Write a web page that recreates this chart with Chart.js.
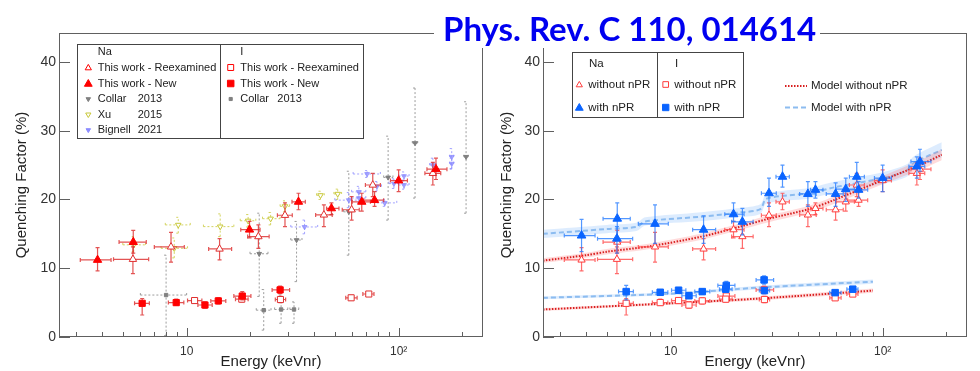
<!DOCTYPE html>
<html><head><meta charset="utf-8">
<script src="https://cdn.jsdelivr.net/npm/chart.js@4.4.0/dist/chart.umd.min.js"></script>
<style>
html,body{margin:0;padding:0;background:#fff;}
#wrap{position:relative;width:980px;height:371px;overflow:hidden;background:#fff;}
canvas{position:absolute;top:0;}
#c1{left:0;} #c2{left:490px;}
#title{position:absolute;left:434px;top:0;width:386px;height:48px;background:#fff;}
#tt{position:absolute;left:9px;top:9px;font-family:Lato,'Open Sans',sans-serif;font-weight:700;color:#0000f0;font-size:33px;line-height:39.6px;white-space:nowrap;}
</style></head><body>
<div id="wrap">
<canvas id="c1" width="490" height="371"></canvas>
<canvas id="c2" width="490" height="371"></canvas>
<div id="title"><span id="tt">Phys. Rev. C 110, 014614</span></div>
</div>
<script>
// rows: [E (keVnr), QF (%), E low, E high, QF low, QF high]
const naNew = [
 [3.8,11.2,3.15,4.4,9.6,13.0],[5.6,13.8,4.8,6.45,12.2,15.5],[19.8,15.6,18.0,22.2,14.4,16.8],
 [33.7,19.65,31.4,36.3,18.5,20.9],[48.2,18.7,45.7,52.3,17.8,19.5],[67,19.65,60.4,73.6,18.3,20.9],
 [77,19.9,68.4,85,19.0,21.15],[100,22.75,91.5,110,21.15,24.3],[150,24.4,136,169,22.9,26.0]];
const naRe = [
 [5.58,11.3,4.52,6.62,9.2,13.1],[8.44,13.1,7.04,9.75,10.9,15.2],[14.3,12.8,12.7,16.3,11.2,14.3],
 [21.8,14.6,19.4,24.5,12.9,16.3],[29.1,17.7,26.8,31.5,16.05,19.5],[44.4,17.75,40.6,48.6,16.05,19.2],
 [60,18.5,54.2,65.2,17.0,20.4],[75.5,22.1,69.7,82,20.4,23.8],[145,23.8,133,158,22.1,25.4]];
const naCollar = [
 [22,12.1,19.9,24.2,5.9,18.0],[33,14.1,31.0,35.0,8.05,16.8],[58.2,18.2,55,62,11.9,24.1],
 [89.2,23.2,85,94,17.0,29.2],[119.5,28.2,116,123,20.2,36.2],[208,26.2,203,213,18.0,34.2]];
const naXu = [
 [5.63,13.4,5.0,6.4,12.4,14.6],[8.74,12.9,7.57,10.1,11.5,14.4],[9.13,16.3,7.93,10.4,15.1,17.4],
 [14.4,16.05,12.0,16.7,14.6,17.9],[19.5,16.9,17.9,21.2,16.0,17.8],[24.9,17.2,22.8,27.6,16.3,18.1],
 [29.1,19.0,27.6,30.6,18.2,19.8],[42.8,20.6,41,44.6,20.0,21.2],[51.6,20.8,49.5,53.8,20.0,21.5]];
const naBignell = [
 [36,16.0,31,41.5,15.0,17.0],[58.2,19.9,50,66,18.8,21.0],[64.9,21.1,60,70,20.3,21.9],
 [65,20.2,60,70,19.5,21.0],[71,23.7,61,82,23.2,24.2],[79,21.9,75,83,21.2,22.6],
 [86,19.5,79,98,19.0,20.0],[95,22.3,90,100,21.6,23.0],[106,23.4,100,112,22.8,24.0],
 [106,22.1,100,112,21.5,22.7],[145,25.0,140,150,24.0,26.0],[178,26.2,174,182,24.4,27.4],
 [178,25.2,174,182,24.5,26.0]];
const iNew = [
 [6.17,4.9,5.68,6.67,3.2,5.6],[8.93,5.0,8.2,9.7,4.6,5.5],[12.2,4.65,11.3,13.2,4.2,5.1],
 [14.1,5.25,13.0,15.3,4.8,5.7],[18.3,5.95,16.7,20.1,5.4,6.6],[27.6,6.85,25.3,30.6,6.3,7.4]];
const iRe = [
 [10.9,5.3,10.1,11.8,4.9,5.7],[18.2,5.5,17.0,19.5,5.1,5.9],[27.7,5.45,26.2,29.3,5.0,5.9],
 [59.7,5.7,56.3,63.7,5.35,6.05],[72.3,6.25,67.8,76.5,5.9,6.6]];
const iCollar = [
 [8.0,6.1,6.05,10.0,0.2,11.9],[23.1,3.9,21.3,25.0,1.0,6.9],[27.9,4.0,26.0,30.0,2.0,6.1],
 [32.1,4.0,30.7,33.8,2.0,5.1]];
// right panel: with nuclear-recoil correction (nPR)
const naWithNPR = [
 [3.8,14.75,3.15,4.4,12.4,17.1],[5.6,17.2,4.8,6.45,14.1,19.5],[5.58,14.3,4.52,6.62,12.2,16.05],
 [8.44,16.45,7.04,9.75,13.6,19.2],[14.3,15.6,12.7,16.3,13.6,17.6],[19.8,17.85,18.0,22.2,16.8,19.5],
 [21.8,16.75,19.4,24.5,14.85,18.7],[29.1,20.9,26.8,31.5,19.0,23.1],[33.7,23.3,31.4,36.3,21.8,25.0],
 [44.4,20.8,40.6,48.6,19.0,22.6],[48.2,21.4,45.7,52.3,20.2,22.6],[60,20.8,54.2,65.2,19.0,22.4],
 [67,21.5,60.4,73.6,19.7,23.1],[75.5,23.3,69.7,82,21.4,25.4],[77,21.4,68.4,85,20.2,22.6],
 [100,23.1,91.5,110,21.15,25.0],[145,24.8,133,158,23.1,26.2],[150,25.5,136,169,24.1,27.3]];
const iWithNPR = [
 [6.17,6.6,5.68,6.67,5.4,7.5],[8.93,6.5,8.2,9.7,6.1,6.9],[10.9,6.8,10.1,11.8,6.4,7.2],
 [12.2,6.0,11.3,13.2,5.6,6.4],[14.1,6.6,13.0,15.3,6.2,7.0],[18.2,6.95,17.0,19.5,6.5,7.4],
 [18.3,7.5,16.7,20.1,6.9,8.1],[27.6,8.3,25.3,30.6,7.7,8.9],[27.7,6.75,26.2,29.3,6.3,7.2],
 [59.7,6.45,56.3,63.7,6.1,6.8],[72.3,6.95,67.8,76.5,6.6,7.3]];
// models
const modelNaE_no = [2.5,4,5,8,14,21,29,45,60,100,150,190];
const modelNa_no  = [11.1,11.9,12.4,13.2,14.6,16.0,17.2,18.6,20.0,22.8,25.0,26.5];
const modelNa_noErr = [0.35,0.35,0.4,0.4,0.45,0.45,0.5,0.5,0.55,0.6,0.7,0.8];
const modelNaE_w = [2.5,5,6.9,7.6,14,21,26.5,28.3,45,60,100,130,140,190];
const modelNa_w  = [15.0,15.7,16.0,16.8,17.5,18.1,18.6,20.1,20.9,21.8,23.1,24.2,25.3,27.2];
const modelNa_wErr = [0.6,0.6,0.6,0.6,0.65,0.65,0.7,0.7,0.75,0.8,0.85,0.9,0.95,1.1];
const modelIE = [2.5,10,26.5,90];
const modelI_no = [4.0,4.9,5.6,6.75];
const modelI_w  = [5.7,6.3,7.2,8.05];
const modelI_err = [0.2,0.2,0.25,0.3];
const xTicksMajor = [10,100];
const xTicksMinor = [3,4,5,6,7,8,9,20,30,40,50,60,70,80,90,200];
const yTicks = [0,10,20,30,40];

Chart.defaults.font.family = "'Liberation Sans', Arial, sans-serif";
Chart.defaults.color = '#333';

function pts(rows){ return rows.map(r=>({x:r[0],y:r[1]})); }
function errs(rows){ return rows.map(r=>[r[2],r[3],r[4],r[5]]); }
function ser(rows, st){
  return Object.assign({type:'scatter', data:pts(rows), errs:errs(rows), pointBorderWidth:1, pointHoverRadius:0}, st);
}
function model(E, v, e, color, dash, band){
  const line = {type:'line', data:E.map((x,i)=>({x:x,y:v[i]})), borderColor:color, borderWidth:2, borderDash:dash, pointRadius:0, fill:false, tension:0.3};
  const lo = {type:'line', data:E.map((x,i)=>({x:x,y:v[i]-e[i]})), borderColor:'rgba(0,0,0,0)', borderWidth:0, pointRadius:0, fill:false, tension:0.3};
  const hi = {type:'line', data:E.map((x,i)=>({x:x,y:v[i]+e[i]})), borderColor:'rgba(0,0,0,0)', borderWidth:0, pointRadius:0, fill:'-1', backgroundColor:band, tension:0.3};
  return [line, lo, hi];
}

const errPlugin = {
  id:'errbars',
  beforeDatasetDraw(chart, args){
    const ds = chart.data.datasets[args.index];
    if(!ds.errs) return;
    const xs = chart.scales.x, ys = chart.scales.y, ctx = chart.ctx, a = chart.chartArea;
    ctx.save();
    ctx.beginPath(); ctx.rect(a.left, a.top, a.right-a.left, a.bottom-a.top); ctx.clip();
    ctx.strokeStyle = ds.errColor; ctx.lineWidth = ds.errWidth || 1.2;
    ctx.setLineDash(ds.errDash || []);
    const c = ds.errCap || 2;
    ds.errs.forEach((r,i)=>{
      const px = xs.getPixelForValue(ds.data[i].x), py = ys.getPixelForValue(ds.data[i].y);
      const x0 = xs.getPixelForValue(r[0]), x1 = xs.getPixelForValue(r[1]);
      const y0 = ys.getPixelForValue(r[2]), y1 = ys.getPixelForValue(r[3]);
      ctx.beginPath();
      ctx.moveTo(x0,py); ctx.lineTo(x1,py);
      ctx.moveTo(px,y0); ctx.lineTo(px,y1);
      ctx.moveTo(x0,py-c); ctx.lineTo(x0,py+c);
      ctx.moveTo(x1,py-c); ctx.lineTo(x1,py+c);
      ctx.moveTo(px-c,y0); ctx.lineTo(px+c,y0);
      ctx.moveTo(px-c,y1); ctx.lineTo(px+c,y1);
      ctx.stroke();
    });
    ctx.restore();
  }
};

const framePlugin = {
  id:'frame',
  afterDatasetsDraw(chart){
    const ctx = chart.ctx, a = chart.chartArea, xs = chart.scales.x, ys = chart.scales.y;
    ctx.save();
    ctx.strokeStyle = '#606060'; ctx.lineWidth = 1; ctx.setLineDash([]);
    ctx.strokeRect(a.left+0.5, a.top+0.5, a.right-a.left-1, a.bottom-a.top-1);
    ctx.beginPath();
    yTicks.forEach(v=>{ const p = Math.round(ys.getPixelForValue(v))+0.5; ctx.moveTo(a.left, p); ctx.lineTo(a.left+11, p); });
    xTicksMajor.forEach(v=>{ const p = Math.round(xs.getPixelForValue(v))+0.5; ctx.moveTo(p, a.bottom); ctx.lineTo(p, a.bottom-9); });
    xTicksMinor.forEach(v=>{ const p = Math.round(xs.getPixelForValue(v))+0.5; ctx.moveTo(p, a.bottom); ctx.lineTo(p, a.bottom-5); });
    ctx.stroke();
    ctx.restore();
  }
};

function mk(ctx, style, x, y, r, fill, stroke, rot){
  ctx.save();
  ctx.fillStyle = fill; ctx.strokeStyle = stroke; ctx.lineWidth = 1; ctx.setLineDash([]);
  Chart.helpers.drawPoint(ctx, {pointStyle:style, radius:r, rotation:rot||0, borderWidth:1}, x, y);
  ctx.restore();
}
function txt(ctx, s, x, y){ ctx.fillText(s, x, y); }

function scales(yW, yTitlePad){
  return {
    x:{type:'logarithmic', min:2.5, max:250,
       afterFit(s){ s.height = 34; },
       afterBuildTicks(s){ s.ticks = xTicksMajor.map(v=>({value:v})); },
       grid:{display:false, drawTicks:false}, border:{display:false},
       ticks:{padding:7, color:'#333', font:{size:12}, autoSkip:false, maxRotation:0,
              callback:(v)=> v===10 ? '10' : (v===100 ? '10\u00B2' : '')},
       title:{display:true, text:'Energy (keVnr)', color:'#222', font:{size:15}, padding:{top:0,bottom:0}}},
    y:{type:'linear', min:0, max:44.2,
       afterFit(s){ s.width = yW; },
       grid:{display:false, drawTicks:false}, border:{display:false},
       ticks:{stepSize:10, includeBounds:false, padding:3, color:'#333', font:{size:14}},
       title:{display:true, text:'Quenching Factor (%)', color:'#222', font:{size:15}, padding:{top:yTitlePad,bottom:0}}}
  };
}

const RED = '#ff0000', REDERR = 'rgba(220,40,40,0.8)';
const GRAY = '#808080', GRAYERR = 'rgba(140,140,140,0.85)';
const XU = '#c8c83a', XUERR = 'rgba(205,205,70,0.85)';
const BIG = '#8c8cff', BIGERR = 'rgba(140,140,255,0.8)';

// ---------- left panel ----------
const leftLegend = {
  id:'leg1',
  afterDraw(chart){
    const ctx = chart.ctx;
    ctx.save();
    ctx.fillStyle = '#fff'; ctx.fillRect(77.5,44.5,286,94);
    ctx.strokeStyle = '#444'; ctx.lineWidth = 1;
    ctx.strokeRect(77.5,44.5,286,94);
    ctx.beginPath(); ctx.moveTo(220.5,44.5); ctx.lineTo(220.5,138.5); ctx.stroke();
    ctx.fillStyle = '#222'; ctx.font = "11px 'Liberation Sans', Arial, sans-serif"; ctx.textBaseline = 'middle';
    txt(ctx,'Na',97.7,52);
    const rows=[67.5,83.5,99,114.5,130];
    mk(ctx,'triangle',88.3,rows[0]+0.5,3.6,'#fff',RED);
    ctx.fillStyle='#222'; txt(ctx,'This work - Reexamined',97.7,rows[0]);
    mk(ctx,'triangle',88.3,rows[1]+0.5,4.5,RED,RED);
    ctx.fillStyle='#222'; txt(ctx,'This work - New',97.7,rows[1]);
    mk(ctx,'triangle',88.3,rows[2],2.6,GRAY,GRAY,180);
    ctx.fillStyle='#222'; txt(ctx,'Collar',97.7,rows[2]); txt(ctx,'2013',137.7,rows[2]);
    mk(ctx,'triangle',88.3,rows[3],3,'#fff',XU,180);
    ctx.fillStyle='#222'; txt(ctx,'Xu',97.7,rows[3]); txt(ctx,'2015',137.7,rows[3]);
    mk(ctx,'triangle',88.3,rows[4],2.6,BIG,BIG,180);
    ctx.fillStyle='#222'; txt(ctx,'Bignell',97.7,rows[4]); txt(ctx,'2021',137.7,rows[4]);
    txt(ctx,'I',240.3,52);
    mk(ctx,'rect',230.7,rows[0],4.2,'#fff',RED);
    ctx.fillStyle='#222'; txt(ctx,'This work - Reexamined',240.3,rows[0]);
    mk(ctx,'rect',230.7,rows[1],4.6,RED,RED);
    ctx.fillStyle='#222'; txt(ctx,'This work - New',240.3,rows[1]);
    mk(ctx,'rect',230.7,rows[2],2.2,GRAY,GRAY);
    ctx.fillStyle='#222'; txt(ctx,'Collar',240.3,rows[2]); txt(ctx,'2013',277.3,rows[2]);
    ctx.restore();
  }
};

new Chart(document.getElementById('c1'), {
  type:'scatter',
  data:{datasets:[
    ser(naNew,{pointStyle:'triangle',pointRadius:4.8,backgroundColor:RED,borderColor:RED,errColor:REDERR}),
    ser(iNew,{pointStyle:'rect',pointRadius:4.4,backgroundColor:RED,borderColor:RED,errColor:REDERR}),
    ser(naRe,{pointStyle:'triangle',pointRadius:4.3,backgroundColor:'#fff',borderColor:'#e03030',errColor:REDERR}),
    ser(iRe,{pointStyle:'rect',pointRadius:4.3,backgroundColor:'#fff',borderColor:'#e03030',errColor:REDERR}),
    ser(naBignell,{pointStyle:'triangle',rotation:180,pointRadius:2.8,backgroundColor:'rgba(140,140,255,0.75)',borderColor:'rgba(140,140,255,0.75)',errColor:BIGERR,errDash:[2,2],errWidth:1}),
    ser(naXu,{pointStyle:'triangle',rotation:180,pointRadius:3.2,backgroundColor:'#fff',borderColor:XU,errColor:XUERR,errDash:[2,2],errWidth:1}),
    ser(naCollar,{pointStyle:'triangle',rotation:180,pointRadius:2.7,backgroundColor:GRAY,borderColor:GRAY,errColor:GRAYERR,errDash:[2,2],errWidth:1}),
    ser(iCollar,{pointStyle:'rect',pointRadius:2.4,backgroundColor:GRAY,borderColor:GRAY,errColor:GRAYERR,errDash:[2,2],errWidth:1})
  ]},
  options:{responsive:false, animation:false, devicePixelRatio:1, events:[],
    layout:{padding:{left:0,right:7,top:33,bottom:0}},
    plugins:{legend:{display:false}, tooltip:{enabled:false}},
    scales:scales(59,13)},
  plugins:[errPlugin, framePlugin, leftLegend]
});

// ---------- right panel ----------
const BLUE = '#0a64ff', BLUEERR = 'rgba(40,125,255,0.8)';
const RRED = '#ff3c3c', RREDERR = 'rgba(255,70,70,0.8)';
const MRED = '#d81e1e', MBLUE = '#8cbcf0';
const rightLegend = {
  id:'leg2',
  afterDraw(chart){
    const ctx = chart.ctx;
    ctx.save();
    ctx.fillStyle = '#fff'; ctx.fillRect(82.5,52.5,171,65);
    ctx.strokeStyle = '#444'; ctx.lineWidth = 1;
    ctx.strokeRect(82.5,52.5,171,65);
    ctx.beginPath(); ctx.moveTo(167.5,52.5); ctx.lineTo(167.5,117.5); ctx.stroke();
    ctx.fillStyle = '#222'; ctx.font = "11.5px 'Liberation Sans', Arial, sans-serif"; ctx.textBaseline = 'middle';
    txt(ctx,'Na',99,63.5); txt(ctx,'I',185,63.5);
    mk(ctx,'triangle',89.3,85,3.6,'#fff',RRED);
    mk(ctx,'triangle',89.3,108,4.5,BLUE,BLUE);
    mk(ctx,'rect',175.7,84.5,4,'#fff',RRED);
    mk(ctx,'rect',175.7,107.5,4.5,BLUE,BLUE);
    ctx.fillStyle='#222';
    txt(ctx,'without nPR',98.3,84.5); txt(ctx,'with nPR',98.3,107.5);
    txt(ctx,'without nPR',184.3,84.5); txt(ctx,'with nPR',184.3,107.5);
    ctx.lineWidth = 2;
    ctx.strokeStyle = MRED; ctx.setLineDash([1.5,1.5]);
    ctx.beginPath(); ctx.moveTo(295,86); ctx.lineTo(317,86); ctx.stroke();
    ctx.strokeStyle = MBLUE; ctx.setLineDash([5,3]);
    ctx.beginPath(); ctx.moveTo(295,107.5); ctx.lineTo(317,107.5); ctx.stroke();
    ctx.setLineDash([]);
    txt(ctx,'Model without nPR',321,86); txt(ctx,'Model with nPR',321,107.5);
    ctx.restore();
  }
};

const rDatasets = [
  ser(naWithNPR,{pointStyle:'triangle',pointRadius:5,backgroundColor:BLUE,borderColor:BLUE,errColor:BLUEERR}),
  ser(iWithNPR,{pointStyle:'rect',pointRadius:4.6,backgroundColor:BLUE,borderColor:BLUE,errColor:BLUEERR}),
  ser(naNew.concat(naRe),{pointStyle:'triangle',pointRadius:4.2,backgroundColor:'#fff',borderColor:RRED,errColor:RREDERR}),
  ser(iNew.concat(iRe),{pointStyle:'rect',pointRadius:4.4,backgroundColor:'#fff',borderColor:RRED,errColor:RREDERR})
].concat(
  model(modelNaE_no, modelNa_no, modelNa_noErr, MRED, [1.5,1.5], 'rgba(255,110,110,0.25)'),
  model(modelIE, modelI_no, modelI_err, MRED, [1.5,1.5], 'rgba(255,110,110,0.25)'),
  model(modelNaE_w, modelNa_w, modelNa_wErr, MBLUE, [5,3], 'rgba(120,180,250,0.25)'),
  model(modelIE, modelI_w, modelI_err, MBLUE, [5,3], 'rgba(120,180,250,0.25)')
);

new Chart(document.getElementById('c2'), {
  type:'scatter',
  data:{datasets:rDatasets},
  options:{responsive:false, animation:false, devicePixelRatio:1, events:[],
    layout:{padding:{left:0,right:13,top:33,bottom:0}},
    plugins:{legend:{display:false}, tooltip:{enabled:false}},
    scales:scales(53,8)},
  plugins:[errPlugin, framePlugin, rightLegend]
});
</script>
</body></html>
